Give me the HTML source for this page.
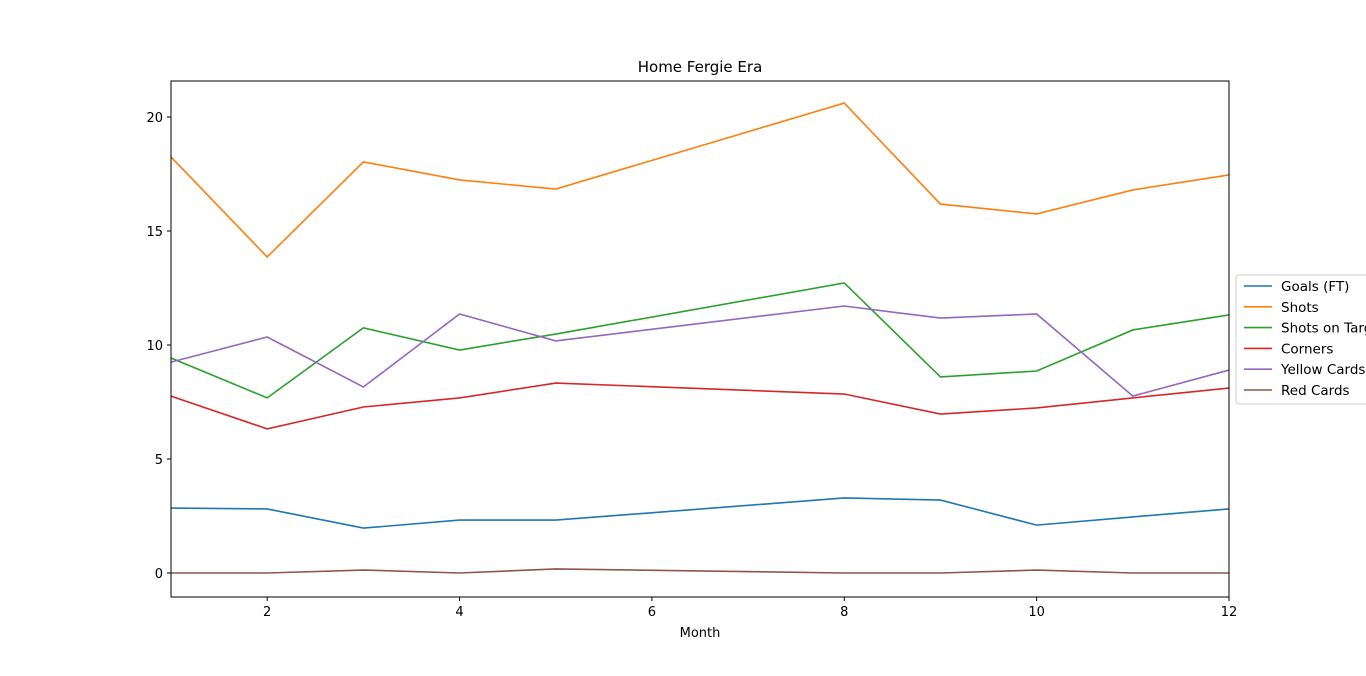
<!DOCTYPE html>
<html><head><meta charset="utf-8"><style>
body{margin:0;background:#fff;overflow:hidden}
svg{font-family:"DejaVu Sans","Liberation Sans",sans-serif}
</style></head><body>
<svg id="c" width="1366" height="671"></svg>
<script>
const months=[1,2,3,4,5,8,9,10,11,12];
const seriesNames=["Goals (FT)","Shots","Shots on Target","Corners","Yellow Cards","Red Cards"];
const colors=["#1f77b4","#ff7f0e","#2ca02c","#d62728","#9467bd","#8c564b"];
const goals=[2.85,2.81,1.97,2.32,2.32,3.29,3.2,2.1,2.46,2.81];
const shots=[18.25,13.86,18.03,17.24,16.84,20.61,16.18,15.75,16.8,17.46];
const shotsOnTarget=[9.43,7.68,10.75,9.78,10.48,12.72,8.6,8.86,10.66,11.32];
const corners=[7.76,6.32,7.28,7.68,8.33,7.85,6.97,7.24,7.68,8.11];
const yellowCards=[9.25,10.35,8.16,11.36,10.18,11.71,11.18,11.36,7.76,8.9];
const redCards=[0,0,0.13,0,0.18,0,0,0.13,0,0];
const xTicks=[2,4,6,8,10,12];
const yTicks=[0,5,10,15,20];
const all=[goals,shots,shotsOnTarget,corners,yellowCards,redCards];
const L=171,R=1229,T=81,B=597;
const xs=v=>L+(v-1)/11*(R-L);
const ys=v=>573-v*22.8;
const svg=document.getElementById('c');
const NS="http://www.w3.org/2000/svg";
function mk(t,a,p){const e=document.createElementNS(NS,t);for(const k in a)e.setAttribute(k,a[k]);(p||svg).appendChild(e);return e;}
const title=mk('text',{x:700,y:72,'text-anchor':'middle','font-size':15});title.textContent="Home Fergie Era";


all.forEach((s,i)=>{
 const p=mk('polyline',{points:s.map((v,j)=>xs(months[j])+','+ys(v)).join(' '),fill:'none',stroke:colors[i],'stroke-width':1.6});
 
 
});
const frame=mk('rect',{x:L,y:T,width:R-L,height:B-T,fill:'none',stroke:'#000','stroke-width':1});


xTicks.forEach(t=>{
 const x=xs(t);mk('line',{x1:x,x2:x,y1:B,y2:B+4,stroke:'#000'});
 const tx=mk('text',{x:x,y:B+19,'text-anchor':'middle','font-size':13});tx.textContent=t;
 
 
});
yTicks.forEach(t=>{
 const y=ys(t);mk('line',{x1:L-4,x2:L,y1:y,y2:y,stroke:'#000'});
 const tx=mk('text',{x:L-8,y:y+5,'text-anchor':'end','font-size':13});tx.textContent=t;
 
 
});
const xl=mk('text',{x:700,y:637,'text-anchor':'middle','font-size':13});xl.textContent="Month";


const lg=mk('g',{});


mk('rect',{x:1236,y:275,width:140,height:129,rx:3,fill:'#fff',stroke:'#ccc'},lg);
seriesNames.forEach((n,i)=>{
 const y=286+i*20.8;
 mk('line',{x1:1244,x2:1272,y1:y,y2:y,stroke:colors[i],'stroke-width':1.6},lg);
 const t=mk('text',{x:1281,y:y+5,'font-size':13.5},lg);t.textContent=n;
 
 
});
</script>
</body></html>
